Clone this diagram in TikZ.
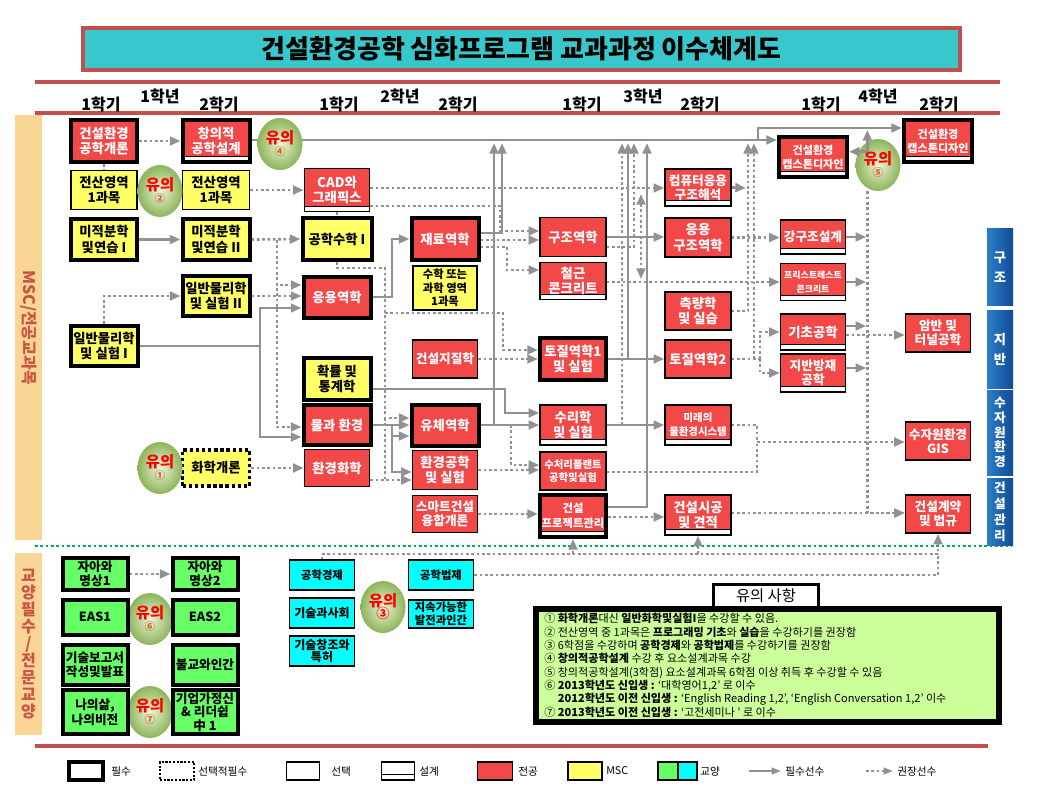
\documentclass[tikz,border=0pt]{standalone}
\usepackage{fontspec}
\setmainfont{Noto Sans CJK KR}
\usetikzlibrary{arrows.meta,shapes.geometric}
\definecolor{majred}{RGB}{242,72,72}
\definecolor{mscyel}{RGB}{255,255,102}
\definecolor{gengrn}{RGB}{102,255,102}
\definecolor{gencyn}{RGB}{0,255,255}
\definecolor{hdrred}{RGB}{192,80,77}
\definecolor{titlecyn}{RGB}{56,200,204}
\definecolor{arrgray}{RGB}{145,145,145}
\definecolor{notegrn}{RGB}{204,255,153}
\definecolor{sidebar}{RGB}{250,214,150}
\definecolor{sidetxt}{RGB}{200,85,65}
\definecolor{barA}{RGB}{45,125,200}
\definecolor{barB}{RGB}{15,75,150}
\definecolor{yuin}{RGB}{238,244,214}
\definecolor{yuout}{RGB}{140,180,90}
\definecolor{yunum}{RGB}{210,100,40}
\definecolor{dotgrn}{RGB}{0,170,80}
\pgfdeclarelayer{bg}
\pgfsetlayers{bg,main}
\tikzset{
  cb/.style={rectangle, inner sep=0pt, align=center, font=\bfseries\fontsize{10}{11.5}\selectfont},
  fs/.style 2 args={font=\bfseries\fontsize{#1}{#2}\selectfont},
  sz/.style 2 args={minimum width=#1*0.75pt, minimum height=#2*0.75pt},
  req/.style={draw=black, line width=3pt},
  sel/.style={draw=black, line width=1.1pt},
  opt/.style={draw=black, line width=2.6pt, dash pattern=on 2.6pt off 2pt},
  maj/.style={fill=majred, text=white},
  msc/.style={fill=mscyel, text=black},
  gen/.style={fill=gengrn, text=black},
  gentwo/.style={fill=gencyn, text=black},
  dsn/.style={path picture={
     \fill[white] ([yshift=0.3pt]path picture bounding box.south west) rectangle ([yshift=3.8pt]path picture bounding box.south east);
     \draw[black, line width=0.8pt] ([yshift=3.8pt]path picture bounding box.south west) -- ([yshift=3.8pt]path picture bounding box.south east);}},
  yuui/.style={ellipse, inner sep=0pt, minimum width=45*0.75pt, minimum height=52*0.75pt, inner color=yuin, outer color=yuout, align=center, text=red, font=\bfseries\fontsize{11.5}{12}\selectfont},
  sline/.style={draw=arrgray, line width=2pt},
  dline/.style={draw=arrgray, line width=2pt, dash pattern=on 2pt off 2pt},
  sarr/.style={sline, -{Triangle[length=8pt,width=6.5pt]}},
  darr/.style={dline, -{Triangle[length=8pt,width=6.5pt]}},
  hdr/.style={font=\bfseries\fontsize{12}{12}\selectfont},
  hdrline/.style={draw=hdrred, line width=3pt},
  bbar/.style={rectangle, inner sep=0pt, align=center, left color=barA, right color=barB, text=white},
  lgt/.style={anchor=west, inner sep=0pt, font=\fontsize{8}{9}\selectfont},
}
\begin{document}
\begin{tikzpicture}[x=0.75pt,y=-0.75pt]
\useasboundingbox (0,0) rectangle (1039,790);

% ---------- title and header ----------
\node[draw=hdrred, line width=2.5pt, fill=titlecyn, sz={877}{42}, font=\bfseries\fontsize{19.5}{22}\selectfont] (title) at (521.5,49) {건설환경공학 심화프로그램 교과과정 이수체계도};
\draw[hdrline] (35,82) -- (1000,82);
\draw[hdrline] (35,113) -- (1000,113);
\node[hdr] (h1a) at (101,104) {1학기};
\node[hdr] (h1) at (160,96) {1학년};
\node[hdr] (h1b) at (219,104) {2학기};
\node[hdr] (h2a) at (339,104) {1학기};
\node[hdr] (h2) at (400,96) {2학년};
\node[hdr] (h2b) at (458,104) {2학기};
\node[hdr] (h3a) at (582,104) {1학기};
\node[hdr] (h3) at (643,96) {3학년};
\node[hdr] (h3b) at (700,104) {2학기};
\node[hdr] (h4a) at (821,104) {1학기};
\node[hdr] (h4) at (878,96) {4학년};
\node[hdr] (h4b) at (939,104) {2학기};

% ---------- side bars ----------
\node[rectangle, inner sep=0pt, fill=sidebar, minimum width=425*0.75pt, minimum height=27*0.75pt, rotate=-90, text=sidetxt, font=\bfseries\fontsize{12}{12}\selectfont] (lbar1) at (28.5,327.5) {MSC/전공교과목};
\node[rectangle, inner sep=0pt, fill=sidebar, sz={27}{182}, align=center, text=sidetxt, font=\bfseries\fontsize{12}{12.75}\selectfont] (lbar2) at (28.5,644) {교\\양\\필\\수\\/\\전\\문\\교\\양};
\node[bbar, sz={26}{77}, fs={10}{15}] (b1) at (1000,267) {구\\조};
\node[bbar, sz={26}{78}, fs={10}{15}] (b2) at (1000,349) {지\\반};
\node[bbar, sz={26}{85}, fs={9.5}{11}] (b3) at (1000,432.5) {수\\자\\원\\환\\경};
\node[bbar, sz={26}{67}, fs={9.5}{12}] (b4) at (1000,511.5) {건\\설\\관\\리};

% ---------- year 1 ----------
\node[cb,req,maj,sz={66}{42}] (gaegae) at (104,141) {건설환경\\공학개론};
\node[cb,sel,msc,sz={66}{39}] (jeonsan1) at (104,190) {전산영역\\1과목};
\node[cb,req,msc,sz={66}{41}] (mijeok1) at (104,239.5) {미적분학\\및연습 I};
\node[cb,req,msc,sz={67}{40}] (mulli1) at (104,346) {일반물리학\\및 실험 I};
\node[cb,opt,msc,sz={67}{36}] (hwahak) at (216,468) {화학개론};
\node[cb,req,maj,dsn,sz={67}{42}] (changui) at (216,141) {창의적\\공학설계};
\node[cb,sel,msc,sz={67}{39}] (jeonsan2) at (216,190) {전산영역\\1과목};
\node[cb,req,msc,sz={67}{41}] (mijeok2) at (216,239.5) {미적분학\\및연습 II};
\node[cb,req,msc,sz={67}{40}] (mulli2) at (216,296) {일반물리학\\및 실험 II};

% ---------- year 2 ----------
\node[cb,sel,maj,dsn,sz={65}{43}] (cad) at (337,190) {CAD와\\그래픽스};
\node[cb,req,msc,sz={69}{42}] (gongsu) at (337,239) {공학수학 I};
\node[cb,req,maj,sz={67}{41}] (eungyong) at (337,297) {응용역학};
\node[cb,req,msc,sz={67}{42}] (hwakryul) at (337,379) {확률 및\\통계학};
\node[cb,req,maj,sz={67}{40}] (mulgwa) at (337,425) {물과 환경};
\node[cb,sel,maj,sz={65}{37}] (hwangyeonghwa) at (337,468) {환경화학};
\node[cb,req,maj,sz={67}{42}] (jaeryo) at (445,239) {재료역학};
\node[cb,sel,msc,sz={64}{44},fs={8.5}{10}] (suhak) at (445,288) {수학 또는\\과학 영역\\1과목};
\node[cb,sel,maj,sz={65}{38},fs={9.5}{11}] (jijil) at (445,359) {건설지질학};
\node[cb,req,maj,sz={67}{41}] (yuche) at (445,425) {유체역학};
\node[cb,sel,maj,sz={65}{39}] (hwangong) at (445,470) {환경공학\\및 실험};
\node[cb,sel,maj,sz={65}{37},fs={9.5}{11}] (smart) at (445,514) {스마트건설\\융합개론};

% ---------- year 3 ----------
\node[cb,sel,maj,sz={66}{39}] (gujo) at (573,237) {구조역학};
\node[cb,sel,maj,dsn,sz={66}{37}] (cheolgeun) at (573,281) {철근\\콘크리트};
\node[cb,req,maj,sz={66}{42}] (tojil1) at (573,359) {토질역학1\\및 실험};
\node[cb,sel,maj,dsn,sz={66}{40}] (suri) at (573,425) {수리학\\및 실험};
\node[cb,sel,maj,sz={66}{38},fs={7.8}{10}] (sucheo) at (573,471) {수처리플랜트\\공학및실험};
\node[cb,req,maj,dsn,sz={66}{42},fs={8.5}{11}] (project) at (573,516) {건설\\프로젝트관리};
\node[cb,sel,maj,dsn,sz={66}{37},fs={9.5}{10.5}] (computer) at (698,187.5) {컴퓨터응용\\구조해석};
\node[cb,sel,maj,sz={66}{39}] (eungujo) at (698,237.5) {응용\\구조역학};
\node[cb,sel,maj,sz={66}{38}] (cheukryang) at (698,311) {측량학\\및 실습};
\node[cb,sel,maj,sz={66}{38}] (tojil2) at (698,359) {토질역학2};
\node[cb,sel,maj,dsn,sz={66}{40},fs={7.8}{10.5}] (mirae) at (698,425) {미래의\\물환경시스템};
\node[cb,sel,maj,dsn,sz={66}{40}] (sigong) at (698,515) {건설시공\\및 견적};

% ---------- year 4 ----------
\node[cb,req,maj,dsn,sz={68}{40},fs={8.3}{10.5}] (cap1) at (813,157) {건설환경\\캡스톤디자인};
\node[cb,sel,maj,dsn,sz={65}{34},fs={9.5}{11}] (ganggujo) at (813,237) {강구조설계};
\node[cb,sel,maj,dsn,sz={65}{37},fs={6.7}{10}] (prestress) at (813,282) {프리스트레스트\\콘크리트};
\node[cb,sel,maj,dsn,sz={65}{36}] (gicho) at (813,332) {기초공학};
\node[cb,sel,maj,dsn,sz={65}{38},fs={9.5}{10.5}] (jibanbang) at (813,373) {지반방재\\공학};
\node[cb,req,maj,dsn,sz={68}{42},fs={8.3}{10.5}] (cap2) at (938,141) {건설환경\\캡스톤디자인};
\node[cb,sel,maj,sz={65}{38},fs={9.5}{10.5}] (amban) at (938,333) {암반 및\\터널공학};
\node[cb,sel,maj,sz={65}{38},fs={9.5}{10.5}] (gis) at (938,441) {수자원환경\\GIS};
\node[cb,sel,maj,sz={65}{38},fs={9.5}{10.5}] (gyeyak) at (938,514) {건설계약\\및 법규};

% ---------- notes circles ----------
\node[yuui] (yu1) at (160,468) {유의\\[-3pt]\textcolor{yunum}{\fontsize{8}{8}\selectfont ①}};
\node[yuui] (yu2) at (160,191) {유의\\[-3pt]\textcolor{yunum}{\fontsize{8}{8}\selectfont ②}};
\node[yuui] (yu4) at (280,144) {유의\\[-3pt]\textcolor{yunum}{\fontsize{8}{8}\selectfont ④}};
\node[yuui] (yu5) at (878,165) {유의\\[-3pt]\textcolor{yunum}{\fontsize{8}{8}\selectfont ⑤}};
\node[yuui] (yu6) at (150,619) {유의\\[-3pt]\textcolor{yunum}{\fontsize{8}{8}\selectfont ⑥}};
\node[yuui] (yu7) at (150,712) {유의\\[-3pt]\textcolor{yunum}{\fontsize{8}{8}\selectfont ⑦}};
\node[yuui] (yu3) at (383,607) {유의\\[-3pt]\textcolor{red}{\fontsize{10}{10}\selectfont ③}};

% ---------- general education ----------
\node[cb,req,gen,sz={65}{32},fs={9.5}{10.5}] (jaa1) at (95,574) {자아와\\명상1};
\node[cb,req,gen,sz={65}{32},fs={9.5}{10.5}] (jaa2) at (205,574) {자아와\\명상2};
\node[cb,req,gen,sz={65}{35},fs={9.5}{10.5}] (eas1) at (95,617) {EAS1};
\node[cb,req,gen,sz={65}{35},fs={9.5}{10.5}] (eas2) at (205,617) {EAS2};
\node[cb,req,gen,sz={65}{40},fs={9.5}{10.5}] (gisul) at (95,665) {기술보고서\\작성및발표};
\node[cb,req,gen,sz={65}{40},fs={9.5}{10.5}] (bulgyo) at (205,665) {불교와인간};
\node[cb,req,gen,sz={65}{44},fs={9.5}{11}] (naui) at (95,712) {나의삶,\\나의비전};
\node[cb,req,gen,sz={65}{44},fs={9.5}{10}] (giup) at (205,712) {기업가정신\\\& 리더쉽\\中 1};
\node[cb,sel,gentwo,sz={65}{30},fs={8.5}{10}] (gongkyung) at (322,575) {공학경제};
\node[cb,sel,gentwo,sz={65}{30},fs={9}{10}] (gisulsa) at (322,613) {기술과사회};
\node[cb,sel,gentwo,sz={65}{30},fs={9}{9.5}] (gisulchang) at (322,651) {기술창조와\\특허};
\node[cb,sel,gentwo,sz={65}{30},fs={8.5}{10}] (gongbeop) at (441,575) {공학법제};
\node[cb,sel,gentwo,sz={65}{28},fs={8.5}{9.5}] (jisok) at (441,614) {지속가능한\\발전과인간};

% ---------- notes box ----------
\node[draw, line width=2.5pt, fill=notegrn, sz={465}{115}] (notes) at (767.5,665.5) {};
\draw[line width=0.8pt] ([shift={(3.5pt,-3.5pt)}]notes.north west) rectangle ([shift={(-3.5pt,3.5pt)}]notes.south east);
\node[draw, line width=2.5pt, fill=white, sz={105}{20}, font=\fontsize{11.5}{11.5}\selectfont] (notetitle) at (766,596) {유의 사항};
\node[anchor=north west, align=left, inner sep=0pt, font=\fontsize{8.3}{10}\selectfont] (notestext) at (544,613) {%
① \textbf{화학개론}대신 \textbf{일반화학및실험I}을 수강할 수 있음.\\
② 전산영역 중 1과목은 \textbf{프로그래밍 기초}와 \textbf{실습}을 수강하기를 권장함\\
③ 6학점을 수강하며 \textbf{공학경제}와 \textbf{공학법제}를 수강하기를 권장함\\
④ \textbf{창의적공학설계} 수강 후 요소설계과목 수강\\
⑤ 창의적공학설계(3학점) 요소설계과목 6학점 이상 취득 후 수강할 수 있음\\
⑥ \textbf{2013학년도 신입생 :} ‘대학영어1,2’ 로 이수\\
\phantom{⑥} \textbf{2012학년도 이전 신입생 :} ‘English Reading 1,2’, ‘English Conversation 1,2’ 이수\\
⑦ \textbf{2013학년도 이전 신입생 :} ‘고전세미나 ’ 로 이수};

% ---------- arrows drawn over circle 5 ----------
\coordinate (y5a) at ([shift={(-8pt,10pt)}]yu5.center);
\draw[sarr] (y5a) -- (cap1.east |- y5a);
\draw[sarr] (y5a) -- (y5a |- 0,130);

% ---------- bottom line and legend ----------
\draw[hdrline] (35,746) -- (988,746);
\node[draw, line width=3pt, sz={34}{18}] (lg1) at (86,771) {};
\node[lgt] (lt1) at (111,771) {필수};
\node[draw, line width=1.6pt, dash pattern=on 1.6pt off 1.2pt, sz={34}{18}] (lg2) at (177,771) {};
\node[lgt] (lt2) at (198,771) {선택적필수};
\node[draw, line width=1pt, sz={33}{18}] (lg3) at (303,771) {};
\node[lgt] (lt3) at (331,771) {선택};
\node[draw, line width=1pt, fill=white, dsn, sz={33}{18}] (lg4) at (398,771) {};
\node[lgt] (lt4) at (419,771) {설계};
\node[draw, line width=1pt, fill=majred, sz={35}{18}] (lg5) at (495,771) {};
\node[lgt] (lt5) at (518,771) {전공};
\node[draw, line width=1pt, fill=mscyel, sz={34}{18}] (lg6) at (585,771) {};
\node[lgt] (lt6) at (606,771) {MSC};
\node[draw, line width=1pt, fill=gengrn, sz={20}{18}] (lg7a) at (668,771) {};
\node[draw, line width=1pt, fill=gencyn, sz={19}{18}] (lg7b) at (687.5,771) {};
\node[lgt] (lt7) at (700,771) {교양};
\coordinate (la1) at (749,771);
\coordinate (la2) at (781,771);
\node[lgt] (lt8) at (785,771) {필수선수};
\coordinate (lb1) at (866,771);
\coordinate (lb2) at (893,771);
\node[lgt] (lt9) at (897,771) {권장선수};

% ---------- connectors (background layer) ----------
\begin{pgfonlayer}{bg}
\fill[white] (0,0) rectangle (1039,790);
\draw[dotgrn, line width=2pt, dash pattern=on 2pt off 2pt] (35,546) -- (1012,546);
\draw[sarr, line width=1.5pt, -{Triangle[length=7pt,width=5pt]}] (la1) -- (la2);
\draw[darr, line width=1.5pt, -{Triangle[length=7pt,width=5pt]}] (lb1) -- (lb2);

\coordinate (j1) at (758,140);
\draw[sarr] (changui.east |- 0,140) -- (cap1.west |- 0,140);
\draw[sarr] (j1) |- (cap2.west |- 0,128);
\draw[dline] (gaegae.south) -- (jeonsan1.north);
\draw[darr] (gaegae.east) -- (changui.west);
\draw[darr] (jeonsan2.east) -- (cad.west);
\draw[sarr] (mijeok1.east) -- (mijeok2.west);
\draw[darr] (mijeok2.east) -- (gongsu.west);
\coordinate (k1) at (277,240);
\draw[darr] (k1) |- (eungyong.west |- 0,285);
\draw[darr] (k1) |- (mulgwa.west |- 0,427);
\draw[darr] (mulli1.north) |- (mulli2.west);
\draw[darr] (mulli2.east) -- (eungyong.west |- mulli2.east);
\coordinate (k2) at (260,346);
\draw[sline] (mulli1.east) -- (k2);
\draw[sarr] (k2) |- (eungyong.west |- 0,308);
\draw[sarr] (k2) |- (mulgwa.west |- 0,437);
\draw[darr] (hwahak.east) -- (hwangyeonghwa.west |- hwahak.east);
\draw[dline] (cad.south) -- (gongsu.north);
\draw[darr] (cad.east |- 0,188) -- (computer.west |- 0,188);
\draw[darr] (cad.east |- 0,206) -| (500,231) -- (gujo.west |- 0,231);
\draw[sarr] (eungyong.east) -| (392,239) -- (jaeryo.west);
\draw[sarr] (jaeryo.east |- 0,233) -| (502,143);
\draw[darr] (jaeryo.east |- 0,240) -- (gujo.west |- 0,240);
\draw[darr] (jaeryo.east |- 0,247) -| (507,270) -- (cheolgeun.west |- 0,270);
\draw[darr] (gongsu.south) |- (385,268) |- (yuche.west |- 0,418);
\draw[dline] (385,418) -- (385,480);
\draw[darr] (385,313) -| (503,350) -- (tojil1.west |- 0,350);
\draw[darr] (jijil.east) -- (tojil1.west |- jijil.east);
\draw[sarr] (mulgwa.east) -- (yuche.west |- mulgwa.east);
\coordinate (k3) at (392,425);
\draw[sarr] (k3) |- (yuche.west |- 0,436);
\draw[sarr] (k3) |- (hwangong.west |- 0,472);
\draw[darr] (hwangyeonghwa.east |- 0,480) -- (hwangong.west |- 0,480);
\draw[sarr] (yuche.east) -- (suri.west |- yuche.east);
\draw[sarr] (494,425) -- (494,143);
\draw[sarr] (hwakryul.east |- 0,389) -| (505,413) -- (suri.west |- 0,413);
\draw[darr] (511,425) |- (sucheo.west |- 0,465);
\draw[darr] (hwangong.east) -- (sucheo.west |- hwangong.east);
\draw[darr] (smart.east) -- (project.west |- smart.east);
\draw[sarr] (gujo.east) -- (eungujo.west |- gujo.east);
\draw[darr] (gujo.east |- 0,247) -| (634,143);
\draw[darr] (622,425) -- (622,143);
\draw[darr] (cheolgeun.east |- 0,282) -- (prestress.west |- 0,282);
\coordinate (m1) at (641,194);
\coordinate (m2) at (641,279);
\draw[dline, {Triangle[length=8pt,width=6.5pt]}-{Triangle[length=8pt,width=6.5pt]}] (m1) -- (m2);
\draw[sarr] (tojil1.east) -- (tojil2.west |- tojil1.east);
\draw[sarr] (628,359) -- (628,143);
\draw[sarr] (suri.east) -- (mirae.west |- suri.east);
\draw[sarr] (project.east |- 0,507) -| (647,143);
\draw[darr] (project.east |- 0,517) -- (sigong.west |- 0,517);
\draw[sarr] (computer.east) -- (746,188);
\draw[darr] (eungujo.east) -- (ganggujo.west |- eungujo.east);
\draw[darr] (cheukryang.east) -| (748,143);
\coordinate (k4) at (760,359);
\draw[dline] (tojil2.east) -- (k4);
\draw[darr] (754,359) -- (754,143);
\draw[darr] (k4) |- (gicho.west);
\draw[darr] (k4) |- (jibanbang.west |- 0,373);
\draw[darr] (mirae.east) -| (757,442) -- (gis.west |- 0,442);
\draw[dline] (sucheo.east |- 0,472) -| (757,442);
\draw[sarr] (ganggujo.east) -- ++(20,0);
\draw[sarr] (prestress.east) -- ++(20,0);
\draw[sarr] (gicho.east |- 0,326) -- ++(20,0);
\draw[sarr] (jibanbang.east |- 0,368) -- ++(20,0);
\draw[darr] (gicho.east |- 0,335) -- (amban.west |- 0,335);
\draw[darr] (y5a |- yu5.south) |- (gyeyak.west |- 0,513);
\draw[darr] (sigong.east |- 0,513) -- (gyeyak.west |- 0,513);
\draw[darr] (jaa1.east) -- (jaa2.west);
\draw[sarr] (eas1.east) -- (eas2.west);
\draw[darr] (gongkyung.north) |- (gyeyak.south |- 0,554) -- (gyeyak.south);
\draw[darr] (project.south |- 0,554) -- (project.south);
\draw[darr] (sigong.south |- 0,554) -- (sigong.south);
\draw[dline] (gongbeop.east) -| (gyeyak.south |- 0,554);
\end{pgfonlayer}
\end{tikzpicture}
\end{document}
